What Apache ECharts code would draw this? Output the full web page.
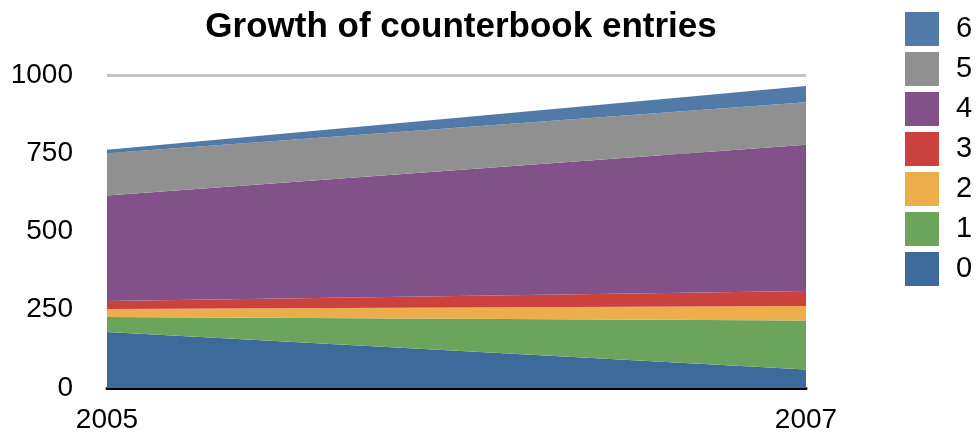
<!DOCTYPE html>
<html>
<head>
<meta charset="utf-8">
<script src="https://cdn.jsdelivr.net/npm/echarts@6/dist/echarts.min.js"></script>
<style>
  html, body { margin: 0; padding: 0; background: #fff; }
  #chart { width: 979px; height: 437px; }
</style>
</head>
<body>
<div id="chart"></div>
<script>
// Years on the x axis
const years = ['2005', '2007'];

// Entries per counter level (stacked bottom to top: 0 .. 6)
const level0 = [179, 59];
const level1 = [48, 157];
const level2 = [25, 46];
const level3 = [26, 48];
const level4 = [337, 467];
const level5 = [135, 136];
const level6 = [11, 52];

const seriesNames = ['0', '1', '2', '3', '4', '5', '6'];
const seriesValues = [level0, level1, level2, level3, level4, level5, level6];
const seriesColors = ['#3c6a9b', '#6da45b', '#ecad4b', '#cb413e', '#835189', '#8f908f', '#517aa8'];

const yTicks = [0, 250, 500, 750, 1000];

const font = "'Liberation Sans', Arial, Helvetica, sans-serif";

const chart = echarts.init(document.getElementById('chart'));

chart.setOption({
  animation: false,
  color: seriesColors,
  title: {
    text: 'Growth of counterbook entries',
    left: 456,
    textAlign: 'center',
    top: 5,
    textStyle: { fontFamily: font, fontWeight: 'bold', fontSize: 35, color: '#000' }
  },
  legend: {
    orient: 'vertical',
    left: 900,
    top: 7,
    itemWidth: 34,
    itemHeight: 34,
    itemGap: 6,
    icon: 'rect',
    data: seriesNames.slice().reverse(),
    textStyle: { fontFamily: font, fontSize: 29, color: '#000', padding: [0, 0, 0, 12] }
  },
  grid: { left: 107, right: 173, top: 75, bottom: 49, containLabel: false },
  xAxis: {
    type: 'category',
    data: years,
    boundaryGap: false,
    axisLine: { show: true, lineStyle: { color: '#000', width: 3 } },
    axisTick: { show: false },
    axisLabel: { fontFamily: font, fontSize: 28, color: '#000', margin: 18 },
    splitLine: { show: false }
  },
  yAxis: {
    type: 'value',
    min: yTicks[0],
    max: yTicks[yTicks.length - 1],
    interval: 250,
    axisLine: { show: false },
    axisTick: { show: false },
    axisLabel: {
      fontFamily: font, fontSize: 28, color: '#000', margin: 34,
      formatter: (v) => String(v)
    },
    splitLine: { show: true, lineStyle: { color: '#c4c4c4', width: 3 } }
  },
  series: seriesNames.map((name, i) => ({
    name: name,
    type: 'line',
    stack: 'total',
    data: seriesValues[i],
    symbol: 'none',
    lineStyle: { width: 0 },
    areaStyle: { color: seriesColors[i], opacity: 1 },
    itemStyle: { color: seriesColors[i] },
    z: 2
  }))
});
</script>
</body>
</html>
